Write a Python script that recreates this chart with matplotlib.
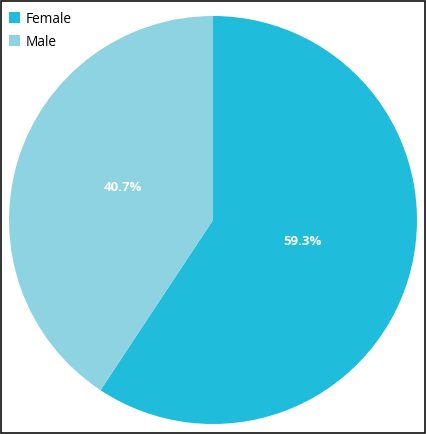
import matplotlib
matplotlib.use("Agg")
import matplotlib.pyplot as plt
from matplotlib.patches import Rectangle

labels = ["Female", "Male"]
values = [59.3, 40.7]
colors = ["#1fbcdc", "#8ed3e2"]

plt.rcParams['font.family'] = ['Open Sans', 'DejaVu Sans']
fig = plt.figure(figsize=(4.27, 4.35), dpi=100)
ax = fig.add_axes([9/427, 1 - 425/435, 408/427, 408/435])
wedges, texts, autotexts = ax.pie(values, colors=colors, startangle=90, counterclock=False,
                                  autopct='%1.1f%%', pctdistance=0.46,
                                  textprops=dict(color='white', fontsize=9.5, fontweight='bold'))
for t in autotexts:
    t.set_va('bottom')
ax.set_aspect('equal')
ax.set_xlim(-1, 1)
ax.set_ylim(-1, 1)
leg = fig.legend(wedges, labels, loc='upper left', bbox_to_anchor=(-0.008, 1.0),
                 frameon=False, fontsize=9.8, handlelength=0.8, handleheight=0.8,
                 handletextpad=0.4, labelspacing=0.6)
fig.patches.append(Rectangle((1/427, 1/435), 424/427, 432/435, transform=fig.transFigure,
                             fill=False, edgecolor='#111111', linewidth=1.2))
fig.savefig("out.png", dpi=100)
